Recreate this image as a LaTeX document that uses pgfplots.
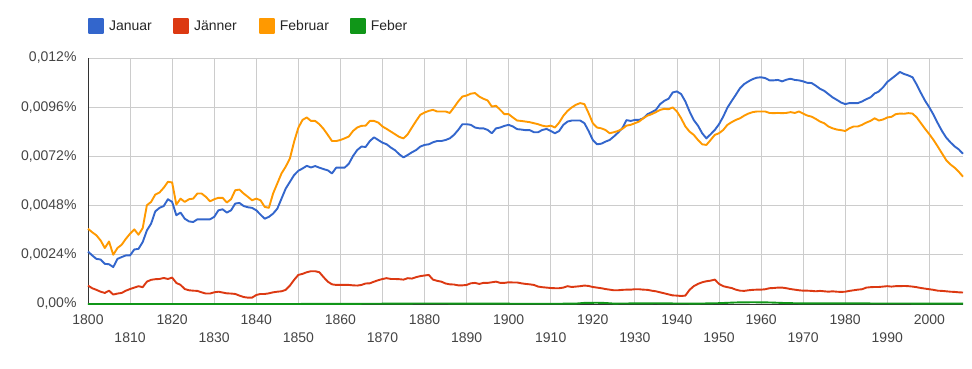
\documentclass[border=0pt]{standalone}
\usepackage{pgfplots}
\pgfplotsset{compat=1.18}
\usepackage{pgfplotstable}
\usepackage{fontspec}
\setmainfont{Liberation Sans}
\definecolor{cjan}{HTML}{3366CC}
\definecolor{cjaen}{HTML}{DC3912}
\definecolor{cfeb}{HTML}{FF9900}
\definecolor{cfeber}{HTML}{109618}
\definecolor{tickgray}{HTML}{444444}
\definecolor{gridgray}{HTML}{CCCCCC}

\pgfplotstableread{
year val
1800 0.00256
1801 0.00237
1802 0.00220
1803 0.00217
1804 0.00196
1805 0.00194
1806 0.00180
1807 0.00220
1808 0.00229
1809 0.00237
1810 0.00237
1811 0.00266
1812 0.00269
1813 0.00302
1814 0.00359
1815 0.00392
1816 0.00452
1817 0.00469
1818 0.00478
1819 0.00511
1820 0.00498
1821 0.00433
1822 0.00446
1823 0.00416
1824 0.00403
1825 0.00400
1826 0.00413
1827 0.00413
1828 0.00413
1829 0.00413
1830 0.00425
1831 0.00457
1832 0.00462
1833 0.00446
1834 0.00457
1835 0.00490
1836 0.00493
1837 0.00478
1838 0.00472
1839 0.00469
1840 0.00457
1841 0.00436
1842 0.00416
1843 0.00425
1844 0.00441
1845 0.00465
1846 0.00514
1847 0.00563
1848 0.00596
1849 0.00629
1850 0.00650
1851 0.00661
1852 0.00674
1853 0.00666
1854 0.00673
1855 0.00665
1856 0.00658
1857 0.00652
1858 0.00637
1859 0.00665
1860 0.00665
1861 0.00665
1862 0.00684
1863 0.00722
1864 0.00751
1865 0.00768
1866 0.00766
1867 0.00795
1868 0.00813
1869 0.00800
1870 0.00787
1871 0.00779
1872 0.00763
1873 0.00750
1874 0.00730
1875 0.00715
1876 0.00727
1877 0.00740
1878 0.00751
1879 0.00768
1880 0.00776
1881 0.00779
1882 0.00789
1883 0.00795
1884 0.00795
1885 0.00800
1886 0.00808
1887 0.00825
1888 0.00849
1889 0.00877
1890 0.00877
1891 0.00874
1892 0.00861
1893 0.00857
1894 0.00857
1895 0.00849
1896 0.00833
1897 0.00857
1898 0.00861
1899 0.00869
1900 0.00874
1901 0.00866
1902 0.00853
1903 0.00851
1904 0.00848
1905 0.00848
1906 0.00838
1907 0.00838
1908 0.00849
1909 0.00854
1910 0.00844
1911 0.00833
1912 0.00844
1913 0.00874
1914 0.00890
1915 0.00895
1916 0.00895
1917 0.00895
1918 0.00882
1919 0.00844
1920 0.00800
1921 0.00779
1922 0.00782
1923 0.00792
1924 0.00800
1925 0.00817
1926 0.00836
1927 0.00857
1928 0.00897
1929 0.00893
1930 0.00898
1931 0.00898
1932 0.00906
1933 0.00926
1934 0.00936
1935 0.00947
1936 0.00975
1937 0.00991
1938 0.01001
1939 0.01032
1940 0.01037
1941 0.01024
1942 0.00988
1943 0.00939
1944 0.00897
1945 0.00870
1946 0.00833
1947 0.00808
1948 0.00828
1949 0.00849
1950 0.00877
1951 0.00914
1952 0.00958
1953 0.00990
1954 0.01021
1955 0.01053
1956 0.01073
1957 0.01086
1958 0.01097
1959 0.01104
1960 0.01106
1961 0.01102
1962 0.01091
1963 0.01091
1964 0.01093
1965 0.01086
1966 0.01094
1967 0.01099
1968 0.01093
1969 0.01091
1970 0.01086
1971 0.01079
1972 0.01078
1973 0.01065
1974 0.01050
1975 0.01040
1976 0.01024
1977 0.01008
1978 0.00996
1979 0.00983
1980 0.00975
1981 0.00980
1982 0.00980
1983 0.00980
1984 0.00988
1985 0.00999
1986 0.01008
1987 0.01027
1988 0.01037
1989 0.01057
1990 0.01083
1991 0.01099
1992 0.01115
1993 0.01132
1994 0.01122
1995 0.01115
1996 0.01106
1997 0.01070
1998 0.01029
1999 0.00991
2000 0.00959
2001 0.00923
2002 0.00882
2003 0.00844
2004 0.00812
2005 0.00789
2006 0.00769
2007 0.00754
2008 0.00733
}\tjanuar

\pgfplotstableread{
year val
1800 0.00090
1801 0.00077
1802 0.00069
1803 0.00060
1804 0.00054
1805 0.00065
1806 0.00046
1807 0.00051
1808 0.00054
1809 0.00065
1810 0.00073
1811 0.00080
1812 0.00087
1813 0.00082
1814 0.00109
1815 0.00118
1816 0.00121
1817 0.00122
1818 0.00127
1819 0.00122
1820 0.00129
1821 0.00103
1822 0.00093
1823 0.00073
1824 0.00067
1825 0.00065
1826 0.00064
1827 0.00057
1828 0.00051
1829 0.00051
1830 0.00057
1831 0.00060
1832 0.00056
1833 0.00052
1834 0.00051
1835 0.00049
1836 0.00041
1837 0.00034
1838 0.00031
1839 0.00031
1840 0.00044
1841 0.00049
1842 0.00049
1843 0.00052
1844 0.00057
1845 0.00060
1846 0.00062
1847 0.00069
1848 0.00090
1849 0.00118
1850 0.00142
1851 0.00147
1852 0.00155
1853 0.00160
1854 0.00160
1855 0.00155
1856 0.00131
1857 0.00109
1858 0.00096
1859 0.00093
1860 0.00093
1861 0.00093
1862 0.00093
1863 0.00091
1864 0.00090
1865 0.00093
1866 0.00100
1867 0.00101
1868 0.00109
1869 0.00116
1870 0.00122
1871 0.00126
1872 0.00122
1873 0.00122
1874 0.00121
1875 0.00119
1876 0.00126
1877 0.00124
1878 0.00131
1879 0.00136
1880 0.00139
1881 0.00142
1882 0.00119
1883 0.00113
1884 0.00109
1885 0.00100
1886 0.00096
1887 0.00095
1888 0.00091
1889 0.00091
1890 0.00093
1891 0.00101
1892 0.00103
1893 0.00098
1894 0.00103
1895 0.00103
1896 0.00106
1897 0.00109
1898 0.00103
1899 0.00103
1900 0.00106
1901 0.00105
1902 0.00105
1903 0.00101
1904 0.00098
1905 0.00096
1906 0.00093
1907 0.00085
1908 0.00082
1909 0.00080
1910 0.00078
1911 0.00077
1912 0.00077
1913 0.00080
1914 0.00087
1915 0.00083
1916 0.00085
1917 0.00087
1918 0.00090
1919 0.00088
1920 0.00083
1921 0.00080
1922 0.00077
1923 0.00073
1924 0.00070
1925 0.00067
1926 0.00067
1927 0.00069
1928 0.00070
1929 0.00070
1930 0.00072
1931 0.00072
1932 0.00070
1933 0.00069
1934 0.00065
1935 0.00062
1936 0.00057
1937 0.00052
1938 0.00047
1939 0.00042
1940 0.00041
1941 0.00039
1942 0.00041
1943 0.00069
1944 0.00087
1945 0.00098
1946 0.00106
1947 0.00111
1948 0.00114
1949 0.00119
1950 0.00098
1951 0.00087
1952 0.00082
1953 0.00078
1954 0.00070
1955 0.00065
1956 0.00064
1957 0.00067
1958 0.00069
1959 0.00070
1960 0.00070
1961 0.00072
1962 0.00077
1963 0.00078
1964 0.00080
1965 0.00080
1966 0.00077
1967 0.00073
1968 0.00070
1969 0.00067
1970 0.00065
1971 0.00065
1972 0.00064
1973 0.00062
1974 0.00064
1975 0.00062
1976 0.00060
1977 0.00062
1978 0.00060
1979 0.00059
1980 0.00060
1981 0.00064
1982 0.00067
1983 0.00070
1984 0.00072
1985 0.00080
1986 0.00082
1987 0.00083
1988 0.00083
1989 0.00085
1990 0.00087
1991 0.00085
1992 0.00087
1993 0.00087
1994 0.00088
1995 0.00087
1996 0.00085
1997 0.00082
1998 0.00078
1999 0.00075
2000 0.00072
2001 0.00069
2002 0.00065
2003 0.00064
2004 0.00062
2005 0.00060
2006 0.00059
2007 0.00057
2008 0.00056
}\tjaenner

\pgfplotstableread{
year val
1800 0.00367
1801 0.00350
1802 0.00335
1803 0.00310
1804 0.00273
1805 0.00305
1806 0.00240
1807 0.00273
1808 0.00289
1809 0.00318
1810 0.00343
1811 0.00364
1812 0.00338
1813 0.00370
1814 0.00482
1815 0.00498
1816 0.00534
1817 0.00544
1818 0.00567
1819 0.00596
1820 0.00593
1821 0.00485
1822 0.00514
1823 0.00498
1824 0.00511
1825 0.00514
1826 0.00539
1827 0.00539
1828 0.00523
1829 0.00501
1830 0.00511
1831 0.00518
1832 0.00518
1833 0.00495
1834 0.00511
1835 0.00555
1836 0.00558
1837 0.00539
1838 0.00523
1839 0.00506
1840 0.00514
1841 0.00506
1842 0.00474
1843 0.00469
1844 0.00539
1845 0.00588
1846 0.00637
1847 0.00670
1848 0.00710
1849 0.00792
1850 0.00860
1851 0.00898
1852 0.00910
1853 0.00893
1854 0.00893
1855 0.00877
1856 0.00854
1857 0.00825
1858 0.00795
1859 0.00795
1860 0.00800
1861 0.00808
1862 0.00817
1863 0.00844
1864 0.00861
1865 0.00869
1866 0.00870
1867 0.00893
1868 0.00893
1869 0.00885
1870 0.00866
1871 0.00854
1872 0.00841
1873 0.00828
1874 0.00815
1875 0.00808
1876 0.00828
1877 0.00861
1878 0.00893
1879 0.00923
1880 0.00934
1881 0.00942
1882 0.00947
1883 0.00939
1884 0.00939
1885 0.00939
1886 0.00932
1887 0.00959
1888 0.00988
1889 0.01012
1890 0.01017
1891 0.01026
1892 0.01029
1893 0.01012
1894 0.01001
1895 0.00993
1896 0.00963
1897 0.00967
1898 0.00947
1899 0.00926
1900 0.00926
1901 0.00910
1902 0.00895
1903 0.00893
1904 0.00890
1905 0.00887
1906 0.00882
1907 0.00877
1908 0.00870
1909 0.00866
1910 0.00870
1911 0.00861
1912 0.00885
1913 0.00918
1914 0.00942
1915 0.00959
1916 0.00972
1917 0.00980
1918 0.00975
1919 0.00931
1920 0.00882
1921 0.00861
1922 0.00857
1923 0.00849
1924 0.00833
1925 0.00838
1926 0.00844
1927 0.00854
1928 0.00870
1929 0.00874
1930 0.00882
1931 0.00890
1932 0.00906
1933 0.00919
1934 0.00926
1935 0.00936
1936 0.00947
1937 0.00952
1938 0.00950
1939 0.00959
1940 0.00939
1941 0.00906
1942 0.00866
1943 0.00841
1944 0.00825
1945 0.00800
1946 0.00779
1947 0.00776
1948 0.00800
1949 0.00825
1950 0.00833
1951 0.00849
1952 0.00874
1953 0.00887
1954 0.00898
1955 0.00906
1956 0.00919
1957 0.00929
1958 0.00936
1959 0.00939
1960 0.00939
1961 0.00939
1962 0.00932
1963 0.00931
1964 0.00932
1965 0.00931
1966 0.00932
1967 0.00936
1968 0.00932
1969 0.00939
1970 0.00929
1971 0.00919
1972 0.00914
1973 0.00903
1974 0.00890
1975 0.00882
1976 0.00866
1977 0.00857
1978 0.00851
1979 0.00848
1980 0.00844
1981 0.00857
1982 0.00866
1983 0.00866
1984 0.00874
1985 0.00885
1986 0.00893
1987 0.00906
1988 0.00895
1989 0.00900
1990 0.00910
1991 0.00913
1992 0.00926
1993 0.00929
1994 0.00928
1995 0.00931
1996 0.00929
1997 0.00910
1998 0.00882
1999 0.00854
2000 0.00828
2001 0.00800
2002 0.00768
2003 0.00735
2004 0.00702
2005 0.00681
2006 0.00665
2007 0.00645
2008 0.00621
}\tfebruar

\pgfplotstableread{
year val
1800 0.000000
1820 0.000000
1840 0.000000
1860 0.000005
1870 0.000015
1880 0.000025
1890 0.000020
1900 0.000015
1910 0.000010
1916 0.000020
1918 0.000055
1921 0.000060
1923 0.000050
1925 0.000020
1930 0.000030
1935 0.000035
1940 0.000025
1945 0.000020
1950 0.000040
1954 0.000075
1958 0.000085
1962 0.000075
1966 0.000045
1970 0.000030
1980 0.000030
1990 0.000025
2000 0.000020
2008 0.000015
}\tfeber

\begin{document}
\begin{tikzpicture}[x=1pt,y=1pt]
\path[use as bounding box] (0,0) rectangle (972,368);
\begin{axis}[
  at={(88pt,64pt)}, anchor=south west,
  scale only axis, width=875pt, height=246pt,
  xmin=1800, xmax=2008, ymin=0, ymax=0.012,
  clip=false,
  axis x line=bottom, axis y line=left,
  axis line style={-, draw=black!80, line width=0.8pt},
  major tick length=0pt,
  xtick={1800,1820,...,2000},
  xticklabels={1800,1820,1840,1860,1880,1900,1920,1940,1960,1980,2000},
  extra x ticks={1810,1830,...,1990},
  extra x tick labels={1810,1830,1850,1870,1890,1910,1930,1950,1970,1990},
  extra x tick style={tick label style={yshift=-18pt}, grid=major},
  ytick={0,0.0024,0.0048,0.0072,0.0096,0.012},
  yticklabels={{0,00\%},{0,0024\%},{0,0048\%},{0,0072\%},{0,0096\%},{0,012\%}},
  scaled y ticks=false,
  grid=major,
  major grid style={gridgray, line width=0.8pt},
  tick label style={font=\fontsize{14}{16}\selectfont, text=tickgray},
  xticklabel style={yshift=-7pt},
  yticklabel style={xshift=-8pt},
  legend columns=4,
  legend style={at={(rel axis cs:0,1)}, anchor=west, yshift=32pt,
    draw=none, fill=none, inner xsep=0pt, inner ysep=0pt,
    font=\fontsize{14}{16}\selectfont, text=black!85,
    nodes={inner xsep=5pt}},
  legend cell align=left,
  every axis plot/.append style={line width=1.9pt, line join=round},
]
\addplot[cjan, legend image code/.code={\fill[cjan] (0pt,-7pt) rectangle (14pt,7pt);}] table[x=year,y=val] {\tjanuar};
\addlegendentry{\makebox[59pt][l]{Januar}}
\addplot[cjaen, legend image code/.code={\fill[cjaen] (0pt,-7pt) rectangle (14pt,7pt);}] table[x=year,y=val] {\tjaenner};
\addlegendentry{\makebox[60pt][l]{Jänner}}
\addplot[cfeb, legend image code/.code={\fill[cfeb] (0pt,-7pt) rectangle (14pt,7pt);}] table[x=year,y=val] {\tfebruar};
\addlegendentry{\makebox[65pt][l]{Februar}}
\addplot[cfeber, legend image code/.code={\fill[cfeber] (0pt,-7pt) rectangle (14pt,7pt);}] table[x=year,y=val] {\tfeber};
\addlegendentry{Feber}
\end{axis}
\end{tikzpicture}
\end{document}
